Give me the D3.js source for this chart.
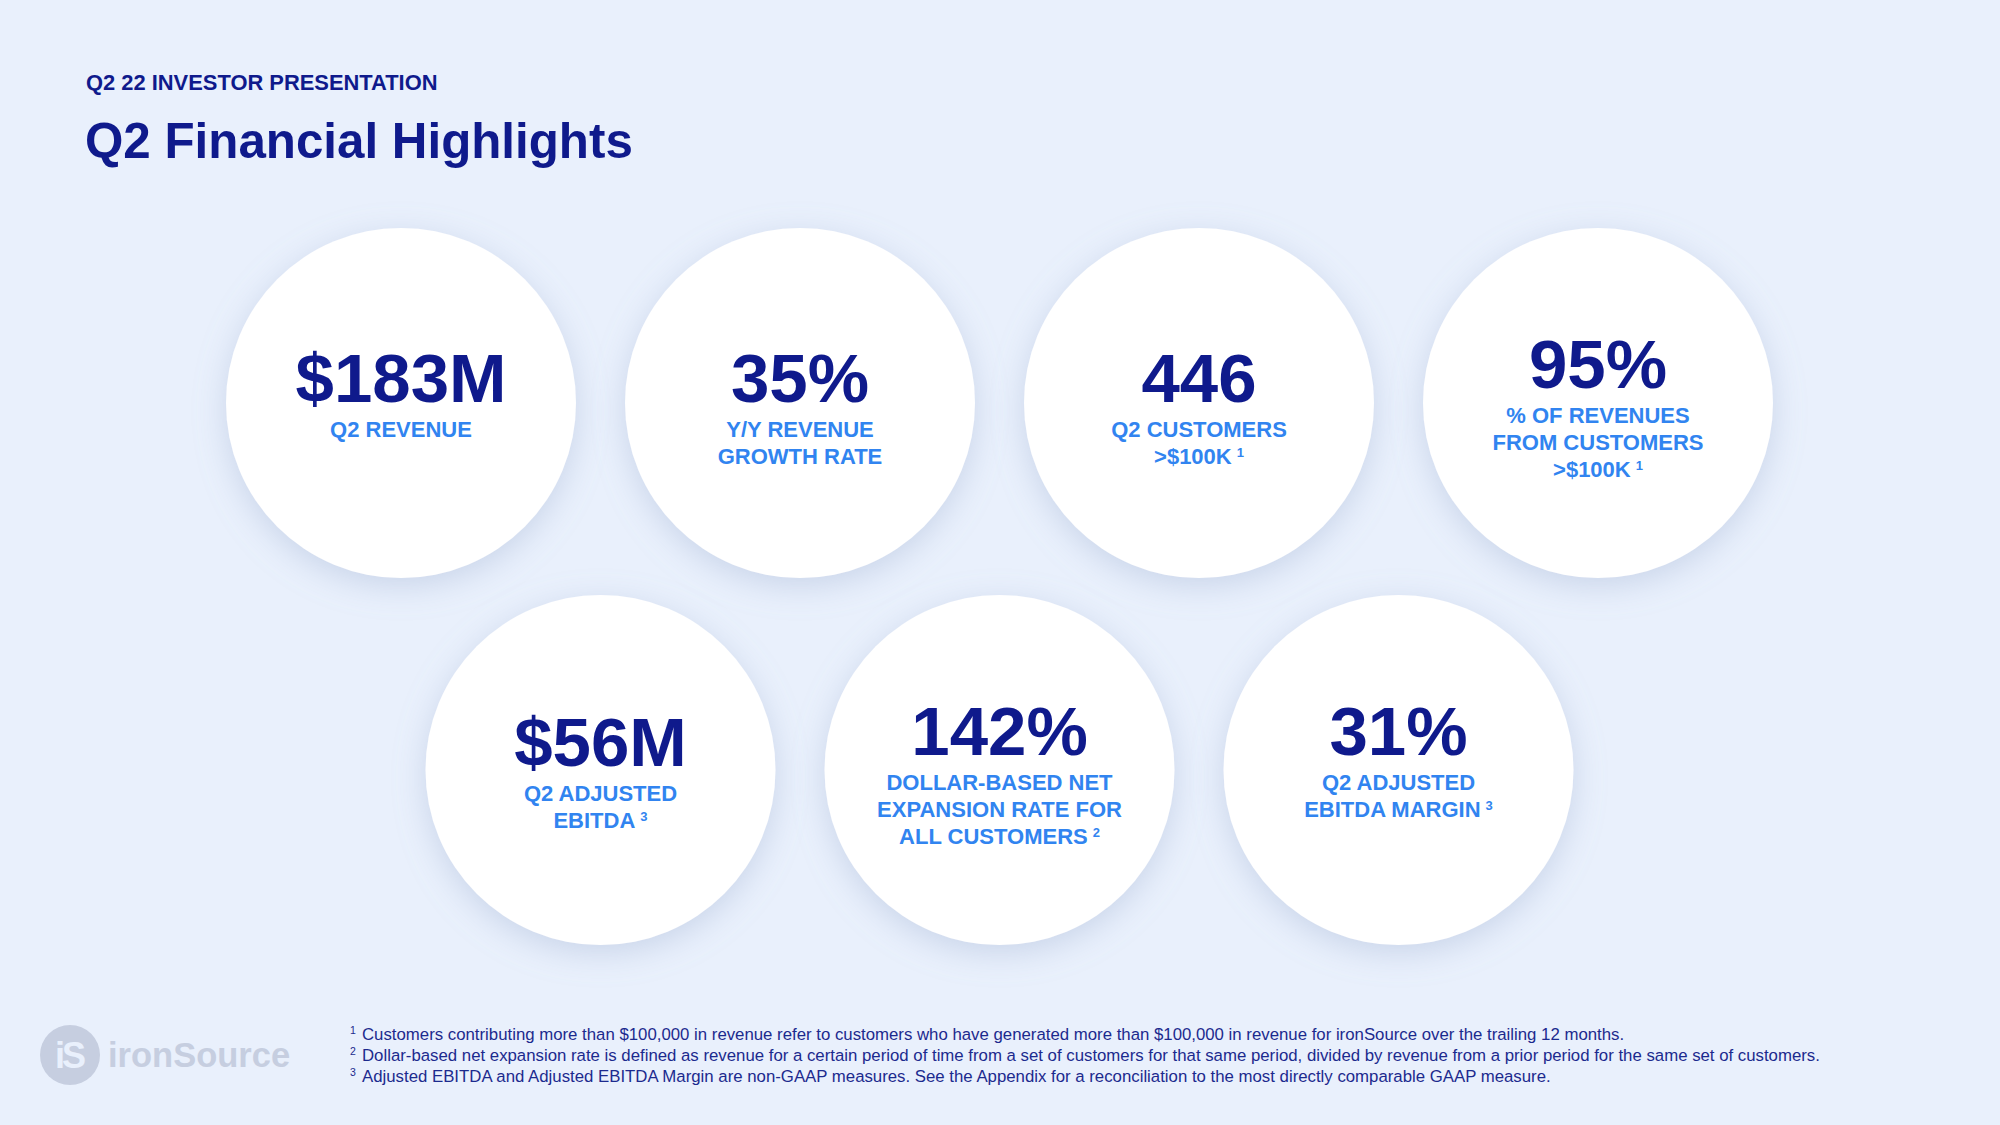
<!DOCTYPE html>
<html>
<head>
<meta charset="utf-8">
<script src="https://cdn.jsdelivr.net/npm/d3@7"></script>
<style>
  html, body { margin: 0; padding: 0; background: #e9f0fc; }
  svg { display: block; }
  text { font-family: "Liberation Sans", Arial, Helvetica, sans-serif; }
</style>
</head>
<body>
<svg id="chart" width="2000" height="1125"></svg>
<script>
// ---- data ----
const kicker = "Q2 22 INVESTOR PRESENTATION";
const title = "Q2 Financial Highlights";
const metricValues = ["$183M", "35%", "446", "95%", "$56M", "142%", "31%"];
const metricLabels = [
  ["Q2 REVENUE"],
  ["Y/Y REVENUE", "GROWTH RATE"],
  ["Q2 CUSTOMERS", ">$100K"],
  ["% OF REVENUES", "FROM CUSTOMERS", ">$100K"],
  ["Q2 ADJUSTED", "EBITDA"],
  ["DOLLAR-BASED NET", "EXPANSION RATE FOR", "ALL CUSTOMERS"],
  ["Q2 ADJUSTED", "EBITDA MARGIN"]
];
const metricNotes = ["", "", "1", "1", "3", "2", "3"];
const footnoteMarks = ["1", "2", "3"];
const footnotes = [
  "Customers contributing more than $100,000 in revenue refer to customers who have generated more than $100,000 in revenue for ironSource over the trailing 12 months.",
  "Dollar-based net expansion rate is defined as revenue for a certain period of time from a set of customers for that same period, divided by revenue from a prior period for the same set of customers.",
  "Adjusted EBITDA and Adjusted EBITDA Margin are non-GAAP measures. See the Appendix for a reconciliation to the most directly comparable GAAP measure."
];
const logoText = "ironSource";

// ---- layout (not data) ----
const textShift = [0, 0, 0, 0, -3, 0, -14];

const svg = d3.select("#chart");
const navy = "#0f1a8c";
const blue = "#3184f0";
const noteColor = "#1c2a8e";
const logoGrey = "#c6cee0";

const colX = d3.scaleLinear().domain([0, 3]).range([401, 1598]);
const rowY = d3.scaleLinear().domain([0, 1]).range([403, 770]);
const R = 175;

const defs = svg.append("defs");
const f = defs.append("filter").attr("id", "shadow")
  .attr("x", "-30%").attr("y", "-30%").attr("width", "160%").attr("height", "160%");
f.append("feDropShadow").attr("dx", 0).attr("dy", 8).attr("stdDeviation", 16)
  .attr("flood-color", "#8fa3c8").attr("flood-opacity", 0.35);

svg.append("rect").attr("width", 2000).attr("height", 1125).attr("fill", "#e9f0fc");

svg.append("text").attr("x", 86).attr("y", 90)
  .attr("font-size", 21.9).attr("font-weight", 700).attr("fill", navy)
  .text(kicker);
svg.append("text").attr("x", 85).attr("y", 158)
  .attr("font-size", 49.3).attr("font-weight", 700).attr("fill", navy)
  .text(title);

const metrics = metricValues.map((v, i) => ({
  value: v, lines: metricLabels[i], note: metricNotes[i], shift: textShift[i],
  row: i < 4 ? 0 : 1, col: i < 4 ? i : i - 4 + 0.5
}));

const g = svg.append("g").selectAll("g").data(metrics).join("g")
  .attr("transform", d => `translate(${colX(d.col)},${rowY(d.row)})`);

g.append("circle").attr("r", R).attr("fill", "#ffffff").attr("filter", "url(#shadow)");

const numY = d => -1 - Math.max(0, d.lines.length - 2) * 14 + d.shift;

g.append("text")
  .attr("text-anchor", "middle")
  .attr("y", numY)
  .attr("font-size", 69).attr("font-weight", 700).attr("fill", navy)
  .text(d => d.value);

g.each(function(d) {
  const base = numY(d) + 35;
  const node = d3.select(this);
  d.lines.forEach((line, j) => {
    const last = j === d.lines.length - 1;
    const t = node.append("text")
      .attr("y", base + j * 27)
      .attr("font-size", 22).attr("font-weight", 700).attr("fill", blue)
      .attr("text-anchor", "middle");
    t.append("tspan").text(line);
    if (last && d.note) {
      t.append("tspan").attr("dx", 5).attr("dy", -7).attr("font-size", 13).text(d.note);
    }
  });
});

// footnotes
const fn = svg.append("g").selectAll("text").data(footnotes).join("text")
  .attr("x", 350).attr("y", (d, i) => 1040 + i * 21)
  .attr("font-size", 16.8).attr("fill", noteColor);
fn.append("tspan").attr("font-size", 10.5).attr("dy", -6).text((d, i) => footnoteMarks[i]);
fn.append("tspan").attr("x", 362).attr("dy", 6).text(d => d);

// logo
const logo = svg.append("g");
logo.append("circle").attr("cx", 70).attr("cy", 1055).attr("r", 30).attr("fill", logoGrey);
logo.append("text").attr("x", 69).attr("y", 1068).attr("text-anchor", "middle")
  .attr("font-size", 36).attr("font-weight", 700).attr("fill", "#e9f0fc")
  .attr("letter-spacing", -3).text("iS");
logo.append("text").attr("x", 108).attr("y", 1067)
  .attr("font-size", 34.5).attr("font-weight", 700).attr("fill", logoGrey)
  .text(logoText);
</script>
</body>
</html>
